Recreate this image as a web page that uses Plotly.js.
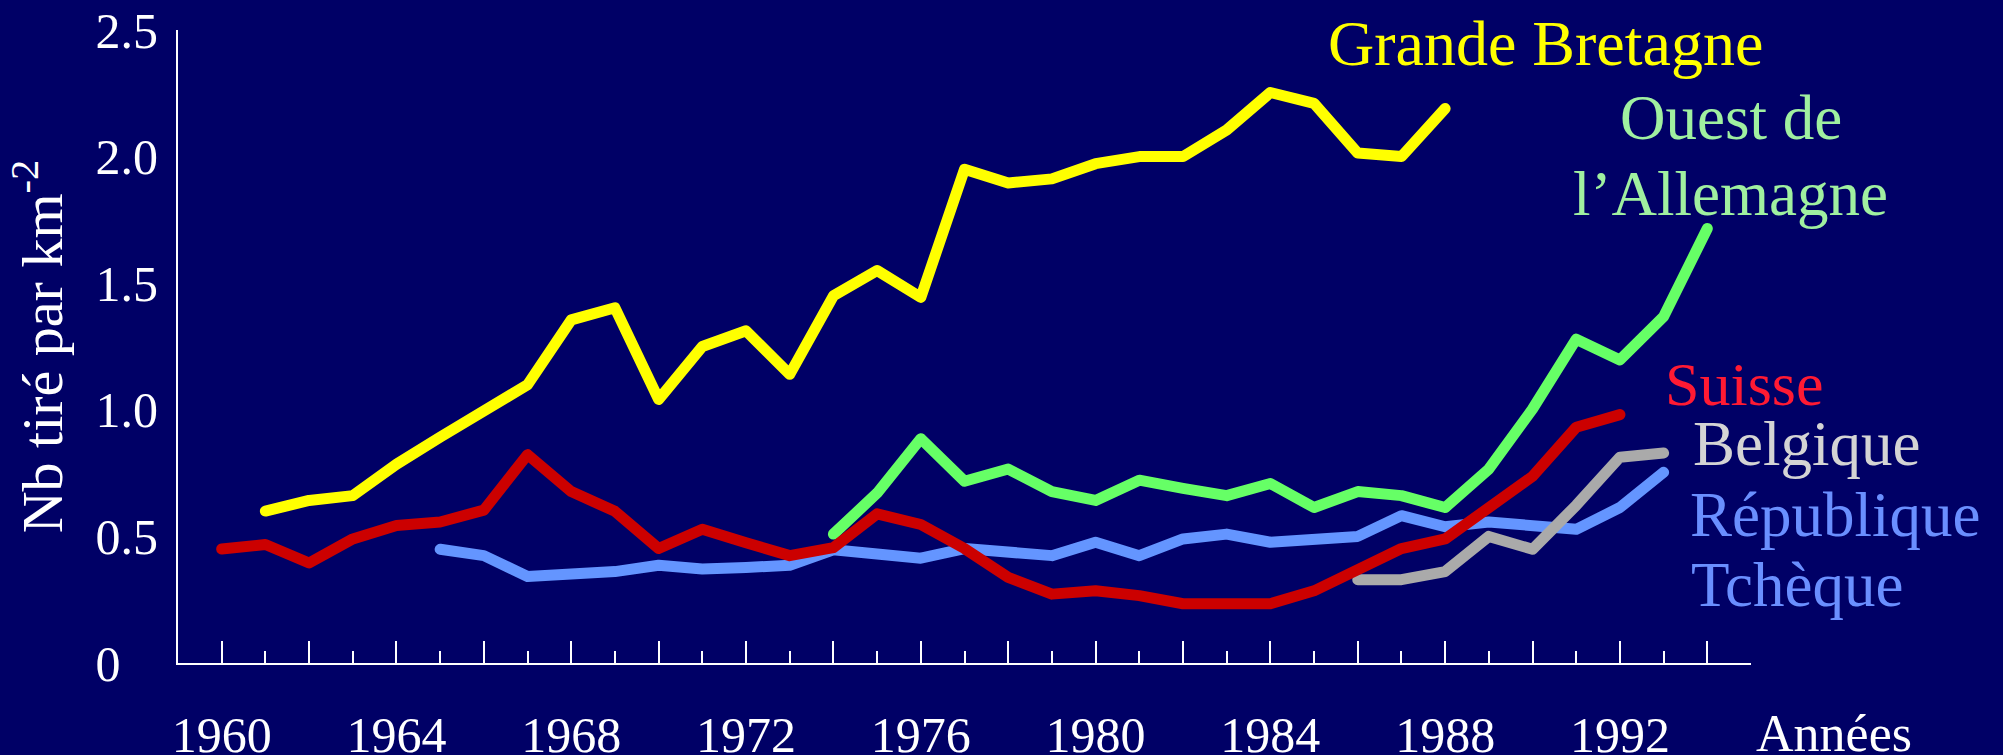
<!DOCTYPE html>
<html>
<head>
<meta charset="utf-8">
<script src="https://cdn.plot.ly/plotly-3.0.1.min.js"></script>
<style>
  html, body { margin: 0; padding: 0; background: #000066; }
  #chart { width: 2003px; height: 755px; }
  .js-line { stroke-linecap: round; stroke-linejoin: round; }
</style>
</head>
<body>
<div id="chart"></div>
<script>
// ---- Data ----
const gbYears = [1961,1962,1963,1964,1965,1966,1967,1968,1969,1970,1971,1972,1973,1974,1975,1976,1977,1978,1979,1980,1981,1982,1983,1984,1985,1986,1987,1988];
const gbValues = [0.60,0.642,0.661,0.785,0.892,0.995,1.099,1.355,1.403,1.041,1.25,1.312,1.14,1.45,1.55,1.444,1.95,1.896,1.912,1.972,2.0,2.0,2.105,2.253,2.21,2.014,2.0,2.19];

const chYears = [1960,1961,1962,1963,1964,1965,1966,1967,1968,1969,1970,1971,1972,1973,1974,1975,1976,1977,1978,1979,1980,1981,1982,1983,1984,1985,1986,1987,1988,1989,1990,1991,1992];
const chValues = [0.45,0.468,0.395,0.49,0.543,0.557,0.604,0.823,0.677,0.599,0.452,0.528,0.475,0.424,0.456,0.589,0.547,0.452,0.338,0.272,0.285,0.266,0.234,0.234,0.234,0.285,0.367,0.452,0.49,0.614,0.737,0.931,0.981];

const czYears = [1965,1966,1967,1968,1969,1970,1971,1972,1973,1974,1975,1976,1977,1978,1979,1980,1981,1982,1983,1984,1985,1986,1987,1988,1989,1990,1991,1992,1993];
const czValues = [0.449,0.424,0.342,0.348,0.361,0.386,0.371,0.377,0.386,0.447,0.433,0.414,0.452,0.433,0.424,0.477,0.424,0.49,0.509,0.477,0.487,0.5,0.582,0.538,0.557,0.547,0.528,0.614,0.753];

const deYears = [1974,1975,1976,1977,1978,1979,1980,1981,1982,1983,1984,1985,1986,1987,1988,1989,1990,1991,1992,1993,1994];
const deValues = [0.509,0.671,0.886,0.718,0.766,0.677,0.642,0.722,0.69,0.661,0.709,0.614,0.677,0.661,0.614,0.766,1.003,1.279,1.197,1.368,1.716];

const beYears = [1986,1987,1988,1989,1990,1991,1992,1993];
const beValues = [0.329,0.329,0.361,0.5,0.449,0.623,0.813,0.829];

// ---- Tick labels ----
const xTickVals = [1960,1962,1964,1966,1968,1970,1972,1974,1976,1978,1980,1982,1984,1986,1988,1990,1992,1994];
const xTickText = ['1960','','1964','','1968','','1972','','1976','','1980','','1984','','1988','','1992',''];
const xMinorTicks = [1961,1963,1965,1967,1969,1971,1973,1975,1977,1979,1981,1983,1985,1987,1989,1991,1993,1995];
const yLabelVals = [0,0.5,1,1.5,2,2.5];
const yLabelText = ['0\u00a0\u00a0\u00a0','0.5','1.0','1.5','2.0','2.5'];
const yMajorTicks = [0.5,1,1.5,2];
const yMinorTicks = [0.25,0.75,1.25,1.75,2.25];

// ---- Labels ----
const seriesNames = ['Grande Bretagne','Suisse','République Tchèque',"Ouest de l’Allemagne",'Belgique'];
const yTitle = 'Nb tiré par km<sup>-2</sup>';
const xTitle = 'Années';

const FONT = 'Liberation Serif, Times New Roman, serif';

function line(x, y, color, name) {
  return { x: x, y: y, type: 'scatter', mode: 'lines', name: name,
           line: { color: color, width: 11, shape: 'linear' },
           hoverinfo: 'x+y', cliponaxis: false };
}

const traces = [
  line(gbYears, gbValues, '#ffff00', seriesNames[0]),
  line(deYears, deValues, '#66ff66', seriesNames[3]),
  line(czYears, czValues, '#6495ff', seriesNames[2]),
  line(beYears, beValues, '#aaaaaa', seriesNames[4]),
  line(chYears, chValues, '#cc0000', seriesNames[1])
];

function ann(text, x, y, color, size, xanchor) {
  return { text: text, x: x, y: y, xref: 'paper', yref: 'paper', showarrow: false,
           xanchor: xanchor || 'center', yanchor: 'middle',
           font: { family: FONT, size: size, color: color } };
}

const layout = {
  width: 2003, height: 755,
  paper_bgcolor: '#000066', plot_bgcolor: '#000066',
  showlegend: false,
  margin: { l: 178, r: 252, t: 30, b: 92, pad: 0 },
  font: { family: FONT, color: '#ffffff', size: 50 },
  xaxis: {
    range: [1959, 1995], showgrid: false, zeroline: false,
    showline: true, linecolor: '#ffffff', linewidth: 2,
    tickmode: 'array', tickvals: xTickVals, ticktext: xTickText,
    ticks: 'inside', ticklen: 22, tickwidth: 2, tickcolor: '#ffffff',
    ticklabelstandoff: 27,
    tickfont: { family: FONT, size: 50, color: '#ffffff' },
    minor: { tickmode: 'array', tickvals: xMinorTicks, ticks: 'inside', ticklen: 12, tickwidth: 2, tickcolor: '#ffffff', showgrid: false }
  },
  yaxis: {
    range: [0, 2.5], showgrid: false, zeroline: false,
    showline: true, linecolor: '#ffffff', linewidth: 2,
    tickmode: 'array', tickvals: yLabelVals, ticktext: yLabelText,
    ticks: '', ticklabelstandoff: 8,
    tickfont: { family: FONT, size: 50, color: '#ffffff' },
    title: { text: yTitle, font: { family: FONT, size: 58, color: '#ffffff' }, standoff: 14 }
  },
  yaxis2: {
    overlaying: 'y', anchor: 'x', side: 'left',
    range: [0, 2.5], showgrid: false, zeroline: false, showline: false,
    showticklabels: false,
    tickmode: 'array', tickvals: yMajorTicks,
    ticks: 'inside', ticklen: 18, tickwidth: 2, tickcolor: '#ffffff',
    minor: { tickmode: 'array', tickvals: yMinorTicks, ticks: 'inside', ticklen: 15, tickwidth: 2, tickcolor: '#ffffff', showgrid: false }
  },
  annotations: [
    ann(seriesNames[0], 0.8694, 0.978, '#ffff00', 64),
    ann('Ouest de', 0.9872, 0.8612, '#a0f0a0', 63),
    ann('l’Allemagne', 0.9872, 0.7412, '#a0f0a0', 63),
    ann(seriesNames[1], 0.9956, 0.4412, '#ff1a33', 62),
    ann(seriesNames[4], 1.0353, 0.3464, '#d4d4d4', 63),
    ann('République', 0.9597, 0.2336, '#6a8fff', 63, 'left'),
    ann('Tchèque', 0.9603, 0.1226, '#6a8fff', 63, 'left'),
    ann(xTitle, 1.0022, -0.112, '#ffffff', 52, 'left')
  ]
};

Plotly.newPlot('chart', traces, layout, { displayModeBar: false, staticPlot: true });
</script>
</body>
</html>
